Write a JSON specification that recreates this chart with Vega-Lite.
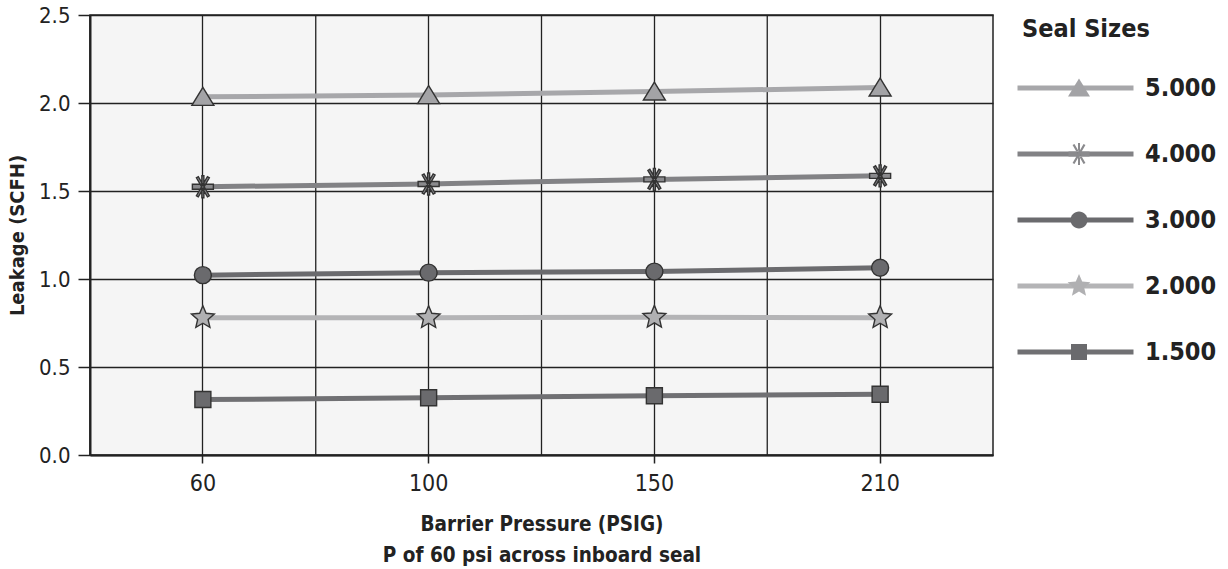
{
  "$schema": "https://vega.github.io/schema/vega-lite/v6.json",
  "width": 903,
  "height": 440,
  "autosize": {"type": "none"},
  "padding": {"left": 90, "top": 15, "right": 235, "bottom": 114},
  "background": "white",
  "config": {
    "font": "DejaVu Sans Condensed, Roboto Condensed, Liberation Sans Narrow, Roboto, sans-serif",
    "view": {"fill": "#f5f5f5", "stroke": "#222222", "strokeWidth": 1.5}
  },
  "data": {
    "values": [
      {"p": "60", "size": "5.000", "leak": 2.035},
      {"p": "100", "size": "5.000", "leak": 2.045},
      {"p": "150", "size": "5.000", "leak": 2.065},
      {"p": "210", "size": "5.000", "leak": 2.088},
      {"p": "60", "size": "4.000", "leak": 1.524},
      {"p": "100", "size": "4.000", "leak": 1.54},
      {"p": "150", "size": "4.000", "leak": 1.566},
      {"p": "210", "size": "4.000", "leak": 1.586},
      {"p": "60", "size": "3.000", "leak": 1.022},
      {"p": "100", "size": "3.000", "leak": 1.036},
      {"p": "150", "size": "3.000", "leak": 1.042},
      {"p": "210", "size": "3.000", "leak": 1.064},
      {"p": "60", "size": "2.000", "leak": 0.78},
      {"p": "100", "size": "2.000", "leak": 0.78},
      {"p": "150", "size": "2.000", "leak": 0.782},
      {"p": "210", "size": "2.000", "leak": 0.78},
      {"p": "60", "size": "1.500", "leak": 0.315},
      {"p": "100", "size": "1.500", "leak": 0.325},
      {"p": "150", "size": "1.500", "leak": 0.337},
      {"p": "210", "size": "1.500", "leak": 0.345}
    ]
  },
  "encoding": {
    "x": {
      "field": "p",
      "type": "ordinal",
      "sort": ["60", "100", "150", "210"],
      "scale": {"type": "band", "paddingInner": 0, "paddingOuter": 0},
      "axis": {
        "title": ["Barrier Pressure  (PSIG)", "P of 60 psi across inboard seal"],
        "titleFontSize": 20.5,
        "titleFontWeight": "bold",
        "titleColor": "#222222",
        "titleLineHeight": 31,
        "titlePadding": 19,
        "labelAngle": 0,
        "labelFontSize": 23,
        "labelColor": "#222222",
        "labelPadding": 9,
        "tickSize": 8,
        "tickColor": "#222222",
        "tickWidth": 1.5,
        "domainColor": "#222222",
        "domainWidth": 2,
        "grid": true,
        "gridColor": "#222222",
        "gridWidth": 1.3
      }
    }
  },
  "layer": [
    {
      "transform": [{"aggregate": [], "groupby": ["p"]}],
      "mark": {"type": "rule", "color": "#222222", "strokeWidth": 1.3},
      "encoding": {
        "x": {"field": "p", "type": "ordinal", "sort": ["60", "100", "150", "210"], "bandPosition": 0}
      }
    },
    {
      "mark": {"type": "line", "strokeWidth": 5},
      "encoding": {
        "y": {
          "field": "leak",
          "type": "quantitative",
          "scale": {"domain": [0, 2.5], "nice": false},
          "axis": {
            "title": "Leakage (SCFH)",
            "titleFontSize": 20,
            "titleFontWeight": "bold",
            "titleColor": "#222222",
            "titlePadding": 11,
            "values": [0, 0.5, 1, 1.5, 2, 2.5],
            "format": ".1f",
            "labelFontSize": 22,
            "labelColor": "#222222",
            "labelPadding": 8,
            "tickSize": 12,
            "tickColor": "#222222",
            "tickWidth": 1.5,
            "domainColor": "#222222",
            "domainWidth": 2,
            "grid": true,
            "gridColor": "#222222",
            "gridWidth": 1.3
          }
        },
        "stroke": {
          "field": "size",
          "type": "nominal",
          "scale": {
            "domain": ["5.000", "4.000", "3.000", "2.000", "1.500"],
            "range": ["#a7a7aa", "#828285", "#6b6b6e", "#b4b4b6", "#707073"]
          },
          "legend": {
            "orient": "none",
            "legendX": 925,
            "legendY": 2,
            "padding": 0,
            "title": "Seal Sizes",
            "titleFontSize": 25,
            "titleFontWeight": "bold",
            "titleColor": "#222222",
            "titlePadding": 31,
            "symbolType": "stroke",
            "symbolSize": 13456,
            "symbolStrokeWidth": 5,
            "clipHeight": 30,
            "rowPadding": 36,
            "labelFontSize": 25,
            "labelFontWeight": "bold",
            "labelColor": "#222222",
            "labelOffset": 9,
            "encode": {"title": {"update": {"dx": {"value": 7}}}}
          }
        }
      }
    },
    {
      "mark": {"type": "point", "filled": true, "opacity": 1, "size": 400, "stroke": "#333333", "strokeWidth": 1.4},
      "encoding": {
        "y": {"field": "leak", "type": "quantitative"},
        "fill": {
          "field": "size",
          "type": "nominal",
          "sort": "descending",
          "scale": {"range": ["#a3a3a6", "#8a8a8d", "#6a6a6d", "#b0b0b2", "#6a6a6d"]},
          "legend": {
            "orient": "none",
            "legendX": 974,
            "legendY": 58,
            "padding": 0,
            "title": null,
            "symbolSize": 400,
            "symbolStrokeColor": "#333333",
            "symbolStrokeWidth": 1.4,
            "clipHeight": 30,
            "rowPadding": 36,
            "labelFontSize": 30,
            "labelExpr": "''",
            "labelOpacity": 0
          }
        },
        "shape": {
          "field": "size",
          "type": "nominal",
          "sort": "descending",
          "scale": {
            "range": [
              "M0,-0.95 L1.1,0.85 L-1.1,0.85 Z",
              "M-0.1,-1.1 H0.1 V1.1 H-0.1 Z M0.455,1.008 L0.645,0.898 L-0.455,-1.008 L-0.645,-0.898 Z M-0.455,1.008 L-0.645,0.898 L0.455,-1.008 L0.645,-0.898 Z M-1.05,-0.25 H1.05 V0.25 H-1.05 Z",
              "M0.85,0 A0.85,0.85 0 1,1 -0.85,0 A0.85,0.85 0 1,1 0.85,0 Z",
              "M0,-1.2 L0.32,-0.44 L1.141,-0.371 L0.52,0.17 L0.705,0.971 L0,0.55 L-0.705,0.971 L-0.52,0.17 L-1.141,-0.371 L-0.32,-0.44 Z",
              "M-0.8,-0.8 H0.8 V0.8 H-0.8 Z"
            ]
          },
          "legend": {
            "orient": "none",
            "legendX": 974,
            "legendY": 58,
            "padding": 0,
            "title": null,
            "symbolSize": 400,
            "symbolStrokeColor": "#333333",
            "symbolStrokeWidth": 1.4,
            "clipHeight": 30,
            "rowPadding": 36,
            "labelFontSize": 30,
            "labelExpr": "''",
            "labelOpacity": 0
          }
        }
      }
    }
  ]
}
